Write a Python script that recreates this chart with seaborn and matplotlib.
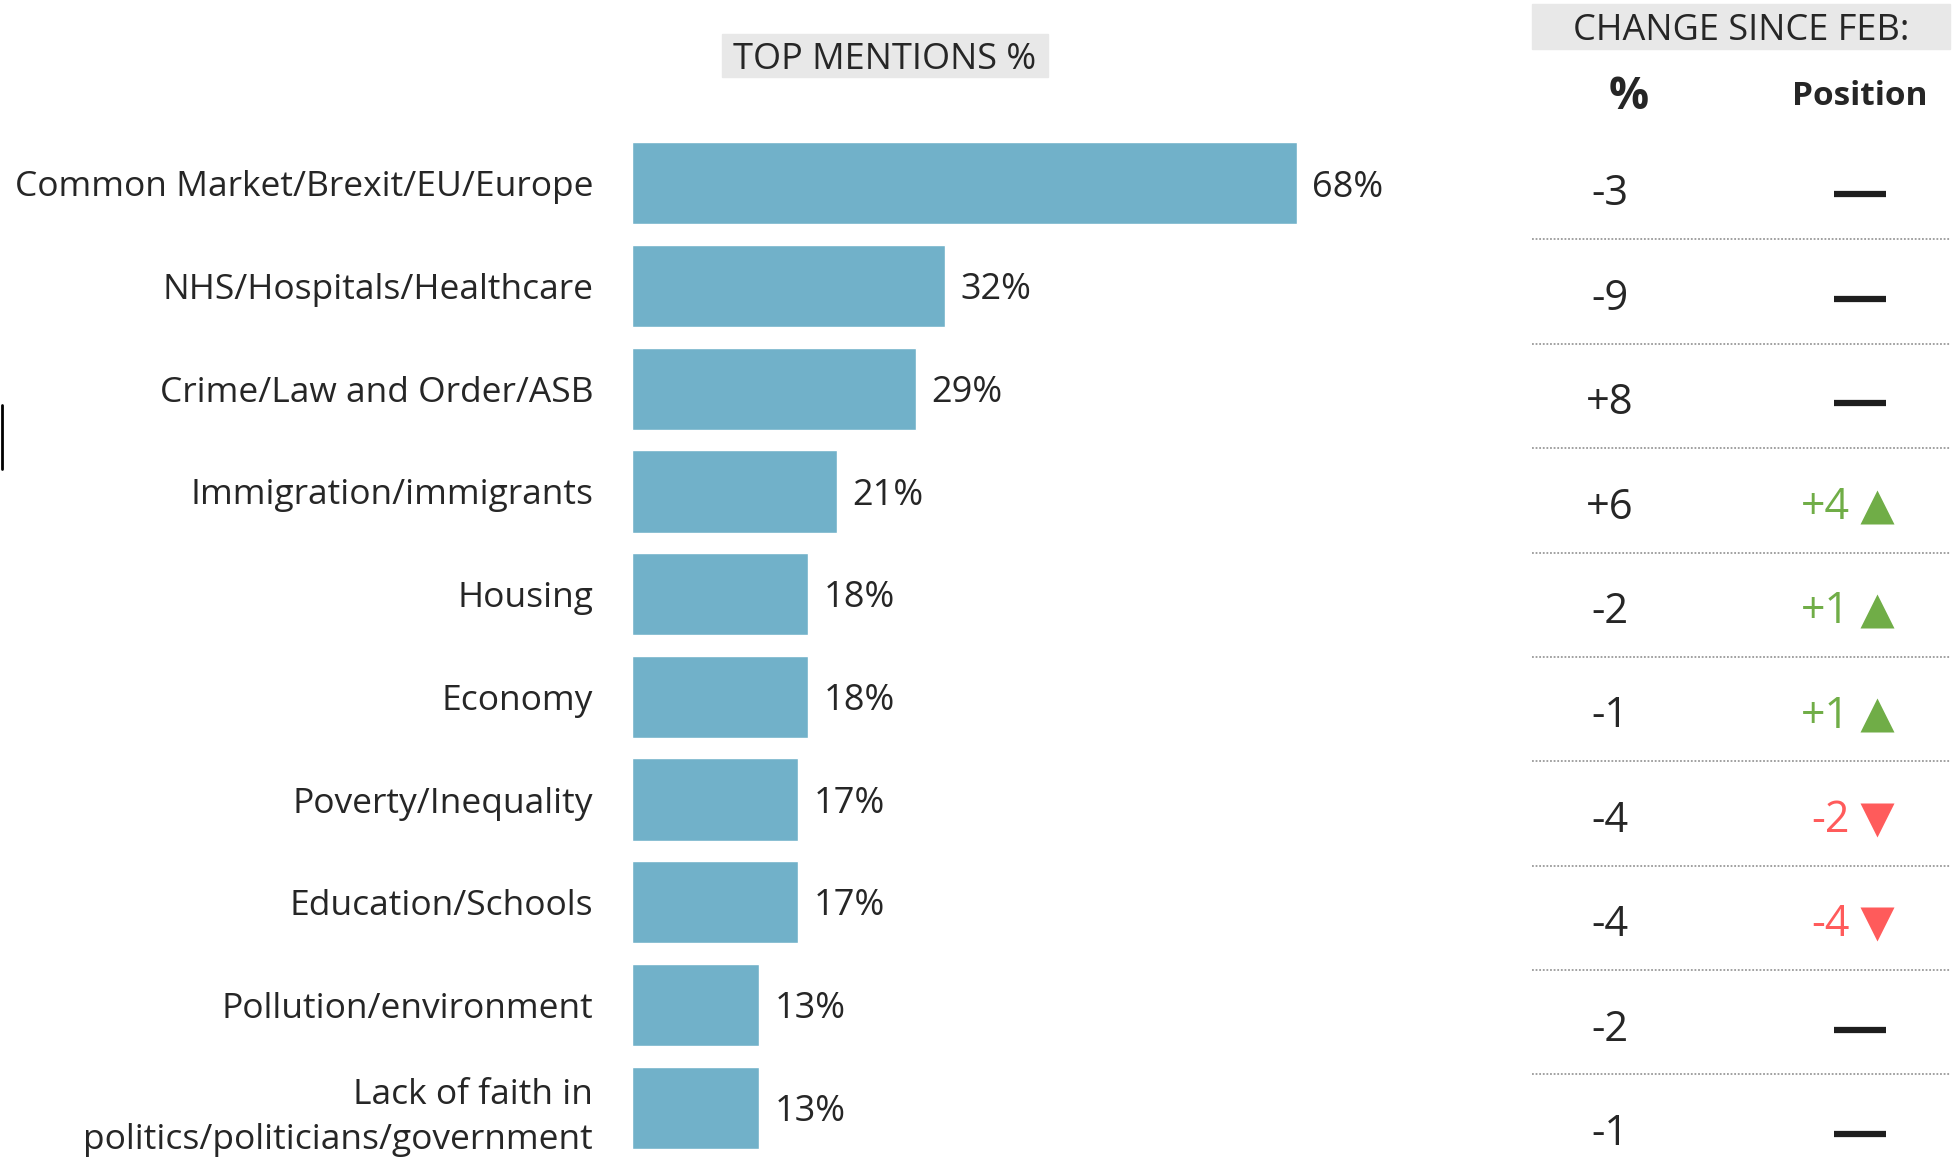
import matplotlib
matplotlib.use("Agg")
import matplotlib.pyplot as plt
from matplotlib.patches import Rectangle
from matplotlib.lines import Line2D
import seaborn as sns
import pandas as pd

# data
topics = [
    "Common Market/Brexit/EU/Europe",
    "NHS/Hospitals/Healthcare",
    "Crime/Law and Order/ASB",
    "Immigration/immigrants",
    "Housing",
    "Economy",
    "Poverty/Inequality",
    "Education/Schools",
    "Pollution/environment",
    "Lack of faith in\npolitics/politicians/government",
]
mentions = [68, 32, 29, 21, 18, 18, 17, 17, 13, 13]
pct_change = [-3, -9, 8, 6, -2, -1, -4, -4, -2, -1]
pos_change = [0, 0, 0, 4, 1, 1, -2, -4, 0, 0]

BAR = "#71B1C9"
GREEN = "#70AD47"
RED = "#FF5B5B"
GREY_BOX = "#E8E8E8"
INK = "#262626"

sns.set_theme(style="white")
plt.rcParams['font.family'] = ['Open Sans', 'DejaVu Sans']
plt.rcParams['text.color'] = INK

W, H = 1956, 1158
fig = plt.figure(figsize=(W / 100, H / 100), dpi=100)

# bar chart
ax = fig.add_axes([632 / W, 0, 880 / W, 1026 / H])
df = pd.DataFrame({"topic": topics, "mentions": mentions})
sns.barplot(data=df, x="mentions", y="topic", orient="h", color=BAR,
            saturation=1, width=0.8, ax=ax)
ax.set_xlim(0, 90)
ax.set_ylim(9.49, -0.5)
ax.set_xticks([])
ax.set_xlabel("")
ax.set_ylabel("")
sns.despine(ax=ax, left=True, bottom=True)
ax.tick_params(axis="y", length=0, pad=28, labelsize=25.5, labelcolor=INK)
for lbl in ax.get_yticklabels():
    lbl.set_linespacing(1.45)
for i, v in enumerate(mentions):
    ax.annotate(f"{v}%", (v, i), xytext=(11, -3), textcoords="offset points",
                ha="left", va="center", fontsize=26, color=INK)

# title box
fig.add_artist(Rectangle((722 / W, 1 - 77 / H), 326 / W, 43 / H,
                         transform=fig.transFigure, color=GREY_BOX, zorder=0))
fig.text(885 / W, 1 - 60 / H, "TOP MENTIONS %", ha="center", va="center",
         fontsize=26, color=INK)

# change table
tx = fig.add_axes([1532 / W, 0, 418 / W, 1])
tx.set_xlim(0, 1)
tx.set_ylim(9.8, -1.293)
tx.axis("off")
tx.add_patch(Rectangle((0, -1.255), 1, 0.431, color=GREY_BOX, clip_on=False))
tx.text(0.5, -1.0, "CHANGE SINCE FEB:", ha="center", va="center", fontsize=26)
tx.text(0.232, -0.36, "%", ha="center", va="center", fontsize=32, fontweight="bold")
tx.text(0.785, -0.37, "Position", ha="center", va="center", fontsize=24, fontweight="bold")
tx.hlines(range(1, 10), 0, 1, colors="#9A9A9A", linestyles=(0, (1, 1)), lw=1.3)

for i, (pc, pos) in enumerate(zip(pct_change, pos_change)):
    y = i + 0.57
    tx.text(0.187, y, f"{pc:+d}", ha="center", va="center", fontsize=30)
    if pos == 0:
        tx.plot(0.785, y, marker="_", ms=37, mew=4.5, color="#1E1E1E")
    else:
        col = GREEN if pos > 0 else RED
        tx.text(0.76, y, f"{pos:+d}", ha="right", va="center", fontsize=31, color=col)
        tx.plot(0.826, y - 0.01, marker="^" if pos > 0 else "v", ms=24,
                color=col, mec="none")

# stray edge mark on the left
fig.add_artist(Line2D([0.001, 0.001], [1 - 405 / H, 1 - 469 / H], color="black", lw=2))

fig.savefig("out.png", dpi=100)
